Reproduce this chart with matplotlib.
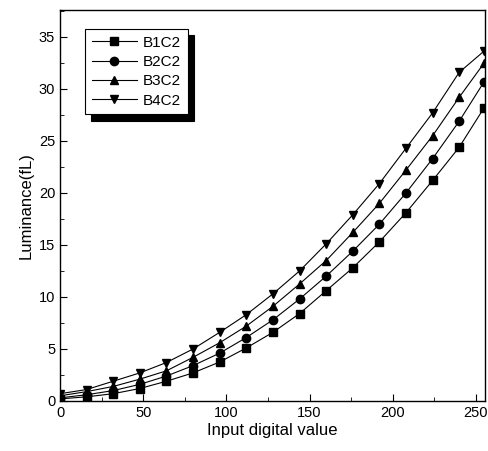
import numpy as np
import matplotlib
matplotlib.use("Agg")
import matplotlib.pyplot as plt
from matplotlib.ticker import MultipleLocator

plt.rcParams['font.family'] = ['Liberation Sans', 'DejaVu Sans']

# input digital values
x = [0, 16, 32, 48, 64, 80, 96, 112, 128, 144, 160, 176, 192, 208, 224, 240, 255]

# luminance (fL) per setting
b1c2 = [0.2, 0.4, 0.7, 1.2, 1.9, 2.7, 3.75, 5.1, 6.6, 8.4, 10.6, 12.8, 15.3, 18.1, 21.2, 24.4, 28.2]
b2c2 = [0.3, 0.6, 1.0, 1.6, 2.4, 3.4, 4.6, 6.1, 7.8, 9.8, 12.0, 14.4, 17.0, 20.0, 23.3, 26.9, 30.7]
b3c2 = [0.5, 0.9, 1.4, 2.1, 2.9, 4.2, 5.6, 7.2, 9.1, 11.25, 13.5, 16.2, 19.0, 22.2, 25.5, 29.2, 32.5]
b4c2 = [0.7, 1.1, 1.9, 2.7, 3.7, 5.0, 6.6, 8.3, 10.3, 12.5, 15.1, 17.9, 20.9, 24.3, 27.7, 31.6, 33.65]

series = [("B1C2", b1c2, "s"), ("B2C2", b2c2, "o"), ("B3C2", b3c2, "^"), ("B4C2", b4c2, "v")]

fig = plt.figure(figsize=(4.89, 4.51), dpi=100)
ax = fig.add_axes([0.1227, 0.1109, 0.8691, 0.8671])

for name, vals, m in series:
    ax.plot(x, vals, color="k", lw=0.8, marker=m, markersize=6,
            markerfacecolor="k", markeredgecolor="k", label=name)

ax.set_xlim(0, 255.5)
ax.set_ylim(0, 37.6)
ax.xaxis.set_major_locator(MultipleLocator(50))
ax.xaxis.set_minor_locator(MultipleLocator(25))
ax.yaxis.set_major_locator(MultipleLocator(5))
ax.yaxis.set_minor_locator(MultipleLocator(2.5))
ax.tick_params(which="both", direction="in", labelsize=10.5)
ax.tick_params(which="major", length=5)
ax.tick_params(which="minor", length=3)
for s in ax.spines.values():
    s.set_linewidth(1.0)

ax.set_xlabel("Input digital value", fontsize=12, labelpad=2)
ax.set_ylabel("Luminance(fL)", fontsize=12, labelpad=4)

leg = ax.legend(loc="upper left", bbox_to_anchor=(0.058, 0.952), fontsize=11,
                frameon=True, fancybox=False, edgecolor="k", handlelength=3.0,
                labelspacing=0.35, borderpad=0.45, handletextpad=0.35,
                borderaxespad=0,
                shadow={"color": "k", "alpha": 1, "ox": 4.5, "oy": -4.5})
leg.get_frame().set_linewidth(0.8)

fig.savefig("out.png", dpi=100)
